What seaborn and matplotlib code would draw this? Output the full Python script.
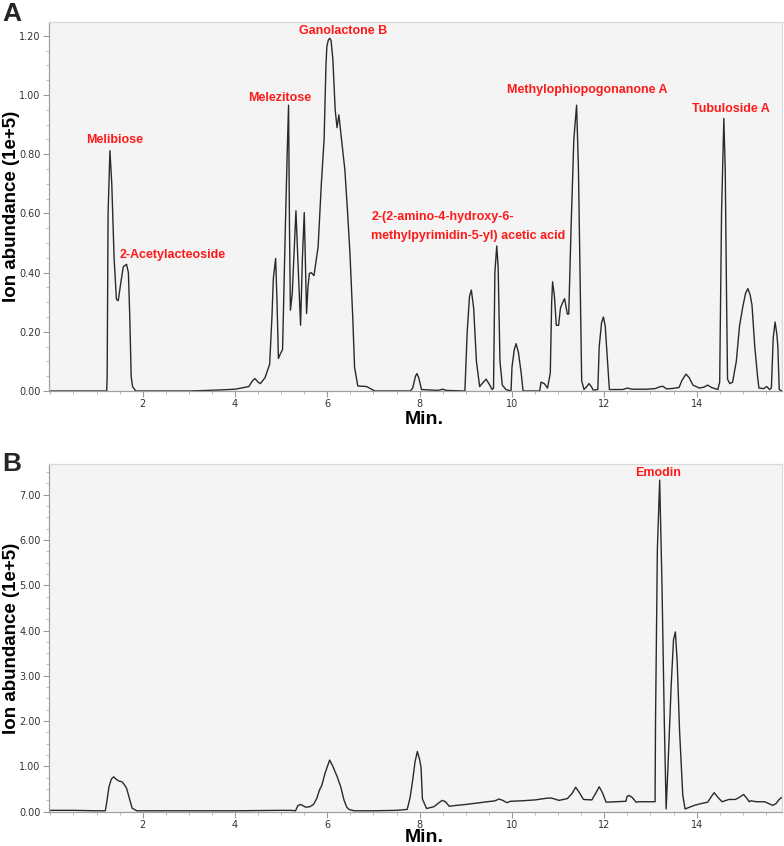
import numpy as np
import pandas as pd
import seaborn as sns
import matplotlib.pyplot as plt
from matplotlib.ticker import MultipleLocator, FormatStrFormatter

sns.set_style("white")
plt.rcParams["font.family"] = ["DejaVu Sans"]

# Panel A trace (retention time in min, abundance in 1e+5)
time_a = [0.0, 1.22, 1.23, 1.25, 1.29, 1.33, 1.38, 1.43, 1.47, 1.52, 1.58, 1.65, 1.69,
          1.72, 1.75, 1.78, 1.85, 3.0, 3.6, 4.0, 4.3, 4.38, 4.43, 4.50, 4.55, 4.65,
          4.75, 4.80, 4.83, 4.88, 4.91, 4.94, 4.98, 5.03, 5.09, 5.13, 5.16, 5.18, 5.20,
          5.24, 5.32, 5.36, 5.42, 5.46, 5.50, 5.55, 5.58, 5.61, 5.65, 5.71, 5.80, 5.87,
          5.93, 5.97, 5.99, 6.02, 6.05, 6.08, 6.12, 6.17, 6.21, 6.25, 6.30, 6.38, 6.44,
          6.49, 6.55, 6.59, 6.66, 6.85, 7.03, 7.80, 7.85, 7.91, 7.94, 7.98, 8.04, 8.40,
          8.50, 8.58, 8.98, 9.03, 9.08, 9.12, 9.17, 9.23, 9.30, 9.38, 9.44, 9.50, 9.57,
          9.60, 9.63, 9.67, 9.70, 9.74, 9.79, 9.87, 9.98, 10.00, 10.05, 10.09, 10.14,
          10.20, 10.24, 10.60, 10.63, 10.70, 10.77, 10.83, 10.86, 10.88, 10.92, 10.96,
          11.01, 11.05, 11.10, 11.14, 11.20, 11.23, 11.28, 11.34, 11.40, 11.44, 11.48,
          11.51, 11.56, 11.62, 11.67, 11.72, 11.76, 11.86, 11.89, 11.94, 11.98, 12.02,
          12.07, 12.11, 12.40, 12.50, 12.60, 12.90, 13.10, 13.20, 13.27, 13.35, 13.50,
          13.62, 13.68, 13.77, 13.84, 13.92, 14.06, 14.16, 14.24, 14.32, 14.46, 14.50,
          14.54, 14.59, 14.62, 14.65, 14.67, 14.72, 14.78, 14.86, 14.93, 15.00, 15.06,
          15.11, 15.16, 15.20, 15.26, 15.32, 15.35, 15.45, 15.52, 15.58, 15.62, 15.66,
          15.70, 15.74, 15.76, 15.79, 15.85]
abund_a = [0.0, 0.0, 0.05, 0.6, 0.812, 0.70, 0.45, 0.31, 0.305, 0.36, 0.42, 0.428, 0.40,
           0.25, 0.05, 0.015, 0.0, 0.0, 0.003, 0.006, 0.015, 0.035, 0.042, 0.03, 0.025, 0.045,
           0.09, 0.25, 0.38, 0.448, 0.30, 0.11, 0.125, 0.14, 0.55, 0.80, 0.966, 0.55, 0.273,
           0.33, 0.609, 0.45, 0.222, 0.45, 0.603, 0.262, 0.35, 0.397, 0.40, 0.39, 0.487, 0.70,
           0.85, 1.10, 1.165, 1.185, 1.192, 1.185, 1.12, 0.95, 0.89, 0.933, 0.86, 0.747, 0.60,
           0.465, 0.25, 0.08, 0.017, 0.015, 0.0, 0.0, 0.01, 0.05, 0.059, 0.045, 0.005, 0.002,
           0.006, 0.002, 0.0, 0.20, 0.32, 0.341, 0.28, 0.10, 0.015, 0.03, 0.04, 0.025, 0.005,
           0.01, 0.40, 0.49, 0.42, 0.10, 0.02, 0.005, 0.0, 0.08, 0.14, 0.16, 0.13,
           0.06, 0.0, 0.0, 0.03, 0.025, 0.01, 0.06, 0.30, 0.369, 0.32, 0.222,
           0.222, 0.28, 0.30, 0.312, 0.26, 0.26, 0.55, 0.85, 0.966, 0.75, 0.35,
           0.035, 0.005, 0.015, 0.025, 0.015, 0.003, 0.005, 0.15, 0.23, 0.25, 0.22,
           0.10, 0.005, 0.005, 0.01, 0.006, 0.006, 0.008, 0.014, 0.016, 0.007, 0.009,
           0.012, 0.035, 0.057, 0.045, 0.02, 0.01, 0.013, 0.02, 0.012, 0.005, 0.03,
           0.60, 0.921, 0.75, 0.30, 0.04, 0.025, 0.03, 0.10, 0.22, 0.284, 0.33,
           0.346, 0.325, 0.29, 0.15, 0.05, 0.01, 0.008, 0.015, 0.005, 0.01, 0.18,
           0.233, 0.19, 0.15, 0.005, 0.0]

# Panel B trace
time_b = [0.0, 0.5, 1.0, 1.19, 1.22, 1.27, 1.32, 1.37, 1.42, 1.48, 1.55, 1.60, 1.65, 1.71,
          1.77, 1.87, 3.0, 4.0, 5.0, 5.2, 5.31, 5.36, 5.41, 5.46, 5.53, 5.62, 5.70, 5.77,
          5.83, 5.88, 5.95, 6.05, 6.12, 6.21, 6.29, 6.36, 6.42, 6.47, 6.58, 7.0, 7.5, 7.73,
          7.79, 7.84, 7.90, 7.95, 8.00, 8.03, 8.06, 8.15, 8.31, 8.42, 8.49, 8.56, 8.64,
          8.80, 9.0, 9.47, 9.63, 9.72, 9.80, 9.89, 9.97, 10.2, 10.5, 10.77, 10.86, 11.02,
          11.2, 11.30, 11.38, 11.46, 11.55, 11.73, 11.81, 11.89, 11.96, 12.02, 12.04, 12.47,
          12.49, 12.53, 12.60, 12.69, 12.75, 13.10, 13.11, 13.15, 13.20, 13.25, 13.30,
          13.34, 13.38, 13.45, 13.50, 13.54, 13.58, 13.63, 13.70, 13.75, 13.85, 13.95,
          14.10, 14.24, 14.31, 14.38, 14.46, 14.55, 14.70, 14.84, 14.93, 15.02, 15.10,
          15.14, 15.17, 15.30, 15.47, 15.56, 15.65, 15.72, 15.78, 15.83, 15.85]
abund_b = [0.03, 0.03, 0.02, 0.02, 0.20, 0.55, 0.72, 0.77, 0.72, 0.68, 0.66, 0.60, 0.52, 0.30,
           0.08, 0.02, 0.02, 0.02, 0.03, 0.03, 0.02, 0.13, 0.16, 0.14, 0.10, 0.11, 0.16, 0.29,
           0.48, 0.58, 0.85, 1.14, 1.00, 0.78, 0.55, 0.26, 0.10, 0.05, 0.02, 0.02, 0.03, 0.05,
           0.30, 0.63, 1.10, 1.33, 1.15, 0.98, 0.28, 0.07, 0.11, 0.20, 0.25, 0.22, 0.12,
           0.14, 0.16, 0.22, 0.24, 0.28, 0.25, 0.20, 0.23, 0.24, 0.26, 0.30, 0.30, 0.25,
           0.29, 0.40, 0.54, 0.42, 0.27, 0.26, 0.40, 0.55, 0.42, 0.26, 0.21, 0.23,
           0.33, 0.36, 0.32, 0.21, 0.22, 0.22, 2.0, 5.8, 7.32, 5.0, 2.0,
           0.06, 1.0, 2.8, 3.8, 3.97, 3.3, 1.8, 0.37, 0.06, 0.10, 0.14,
           0.18, 0.21, 0.32, 0.42, 0.32, 0.22, 0.27, 0.27, 0.32, 0.38, 0.28,
           0.22, 0.24, 0.22, 0.22, 0.18, 0.14, 0.18, 0.26, 0.31, 0.31]

# Compound labels: (name, time, abundance, horizontal alignment)
labels_a = [
    ("Melibiose", 1.40, 0.848, "center"),
    ("2-Acetylacteoside", 2.64, 0.459, "center"),
    ("Melezitose", 4.97, 0.991, "center"),
    ("Ganolactone B", 6.34, 1.216, "center"),
    ("2-(2-amino-4-hydroxy-6-\nmethylpyrimidin-5-yl) acetic acid", 6.95, 0.557, "left"),
    ("Methylophiopogonanone A", 11.64, 1.017, "center"),
    ("Tubuloside A", 14.75, 0.952, "center"),
]
labels_b = [("Emodin", 13.17, 7.48, "center")]

df_a = pd.DataFrame({"time": time_a, "abund": abund_a})
df_b = pd.DataFrame({"time": time_b, "abund": abund_b})

W, H = 784, 846
fig = plt.figure(figsize=(W / 100, H / 100), dpi=100)
ax_a = fig.add_axes([49 / W, 1 - 391 / H, 733 / W, 369 / H])
ax_b = fig.add_axes([49 / W, 1 - 811.7 / H, 733 / W, 347.4 / H])

panels = [
    (ax_a, df_a, labels_a, 1.247, 0.2, 0.05, "A", 2, 20.5),
    (ax_b, df_b, labels_b, 7.67, 1.0, 0.25, "B", 452, 17.5),
]
for ax, df, labels, ytop, ymaj, ymin, letter, ypix, xlab_off in panels:
    sns.lineplot(data=df, x="time", y="abund", ax=ax, color="#2a2a2a", lw=1.0,
                 estimator=None, sort=False)
    ax.set_facecolor("#f4f4f4")
    ax.set_xlim(-0.03, 15.85)
    ax.set_ylim(0, ytop)
    ax.xaxis.set_minor_locator(MultipleLocator(0.5))
    ax.yaxis.set_major_locator(MultipleLocator(ymaj))
    ax.yaxis.set_minor_locator(MultipleLocator(ymin))
    ax.yaxis.set_major_formatter(FormatStrFormatter("%.2f"))
    ax.set_xticks([2, 4, 6, 8, 10, 12, 14])
    ax.tick_params(which="major", direction="out", length=4, width=0.8,
                   color="#9a9a9a", labelsize=7, labelcolor="#333333", pad=2,
                   left=True, bottom=True)
    ax.tick_params(which="minor", direction="out", length=2, width=0.6,
                   color="#b0b0b0", left=True, bottom=True)
    for side in ["left", "bottom"]:
        ax.spines[side].set_color("#a0a0a0")
        ax.spines[side].set_linewidth(0.9)
    for side in ["top", "right"]:
        ax.spines[side].set_color("#dadada")
        ax.spines[side].set_linewidth(0.9)

    ax.set_ylabel("Ion abundance (1e+5)", fontsize=13.5, fontweight="bold",
                  family=["Liberation Sans", "DejaVu Sans"], color="black")
    ax.yaxis.set_label_coords(-0.040, 0.5)
    ax.set_xlabel("Min.", fontsize=14, fontweight="bold",
                  family=["Liberation Sans", "DejaVu Sans"], color="black")
    h = ax.get_position().height * H
    ax.xaxis.set_label_coords(0.512, -xlab_off / h)

    for name, t, v, ha in labels:
        ax.text(t, v, name, ha=ha, va="center", color="#ff1a1a", fontsize=9,
                fontweight="bold", family=["Liberation Sans", "DejaVu Sans"],
                linespacing=1.8)

    fig.text(2 / W, 1 - ypix / H, letter, ha="left", va="top", fontsize=19,
             fontweight="bold", family=["Liberation Sans", "DejaVu Sans"])

fig.savefig("out.png", dpi=100)
